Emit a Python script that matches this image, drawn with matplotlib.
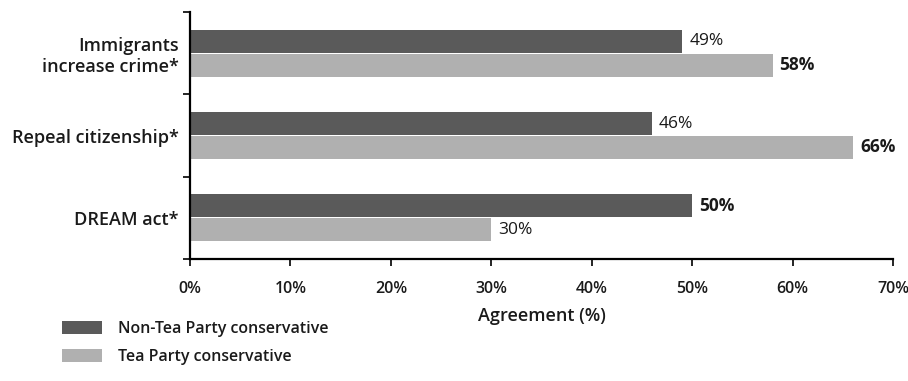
import matplotlib
matplotlib.use("Agg")
import matplotlib.pyplot as plt
from matplotlib.patches import Patch
import numpy as np

plt.rcParams['font.family'] = ['Open Sans', 'DejaVu Sans']

categories = ["Immigrants\nincrease crime*", "Repeal citizenship*", "DREAM act*"]
non_tea_party = [49, 46, 50]
tea_party = [58, 66, 30]
non_tea_bold = [False, False, True]
tea_bold = [True, True, False]
x_ticks = [0, 10, 20, 30, 40, 50, 60, 70]
x_tick_labels = ["0%", "10%", "20%", "30%", "40%", "50%", "60%", "70%"]
series_names = ["Non-Tea Party conservative", "Tea Party conservative"]

dark = "#5a5a5a"
light = "#b0b0b0"
ink = "#1a1a1a"

fig = plt.figure(figsize=(9.08, 3.81), dpi=100)
ax = fig.add_axes([0.2093, 0.3202, 0.7742, 0.6483])

y = np.arange(len(categories))
h = 0.28
off = 0.145
ax.barh(y - off, non_tea_party, height=h, color=dark)
ax.barh(y + off, tea_party, height=h, color=light)

for yi, v, b in zip(y - off, non_tea_party, non_tea_bold):
    ax.text(v + 0.7, yi, f"{v}%", va="center", ha="left", fontsize=12.5,
            fontweight="bold" if b else "normal", color=ink)
for yi, v, b in zip(y + off, tea_party, tea_bold):
    ax.text(v + 0.7, yi, f"{v}%", va="center", ha="left", fontsize=12.5,
            fontweight="bold" if b else "normal", color=ink)

ax.set_xlim(0, 70)
ax.set_ylim(2.5, -0.5)
ax.set_xticks(x_ticks)
ax.set_xticklabels(x_tick_labels, fontsize=11.5, fontweight="semibold", color=ink)
ax.set_yticks([-0.5, 0.5, 1.5, 2.5])
ax.set_yticklabels([])
ax.set_yticks(y, minor=True)
ax.set_yticklabels(categories, minor=True, fontsize=13, color=ink,
                   fontweight="semibold", linespacing=1.2)
ax.tick_params(axis="y", which="minor", length=0, pad=8)
ax.tick_params(axis="y", which="major", length=5, width=1.2, direction="out")
ax.tick_params(axis="x", length=5, width=1.2, direction="out", pad=11)
for lbl in ax.get_yticklabels(minor=True):
    lbl.set_horizontalalignment("right")
    lbl.set_multialignment("right")

ax.set_xlabel("Agreement (%)", fontsize=13, fontweight="semibold",
              color=ink, labelpad=7)

for side in ["top", "right"]:
    ax.spines[side].set_visible(False)
ax.spines["left"].set_linewidth(1.6)
ax.spines["bottom"].set_linewidth(1.6)

handles = [Patch(facecolor=dark), Patch(facecolor=light)]
fig.legend(handles, series_names, loc="upper left",
           bbox_to_anchor=(62 / 908, 1 - 321 / 381), frameon=False,
           prop={"size": 11.5, "weight": "semibold"}, labelcolor=ink,
           handlelength=2.5, handleheight=0.9,
           handletextpad=1.0, labelspacing=0.75, borderpad=0, borderaxespad=0)

fig.savefig("out.png", dpi=100)
